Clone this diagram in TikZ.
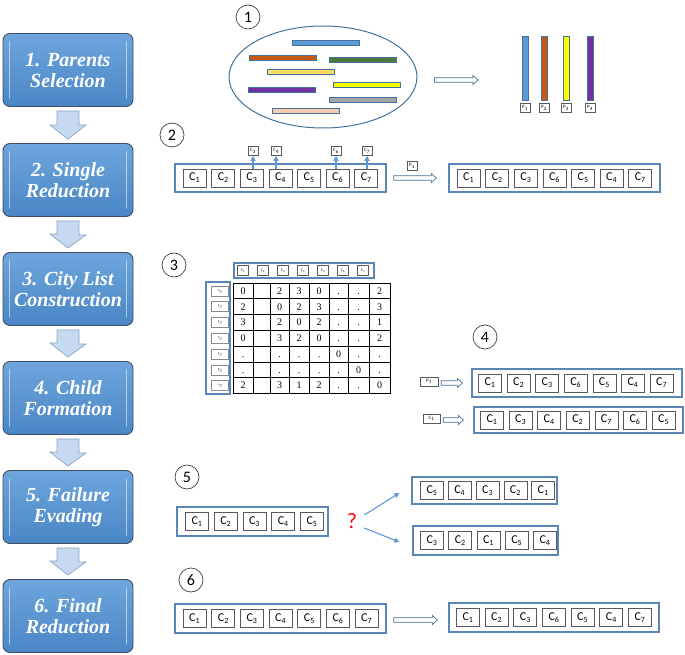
\documentclass[tikz,border=0pt]{standalone}
\usepackage{fontspec}
\setmainfont{Liberation Serif}
\newfontfamily\calfont{Carlito}
\usetikzlibrary{arrows.meta,shapes.geometric,calc}
\definecolor{stepTop}{HTML}{6EA6DC}
\definecolor{stepBot}{HTML}{4A86C6}
\definecolor{stepborder}{HTML}{3E4E60}
\definecolor{arrowfill}{HTML}{C6D9F0}
\definecolor{arrowline}{HTML}{8AA6C6}
\definecolor{boxblue}{HTML}{5A86B6}
\definecolor{cellgray}{HTML}{595959}
\definecolor{ellblue}{HTML}{41719C}
\definecolor{lineblue}{HTML}{5B9BD5}
\definecolor{barOrange}{HTML}{C55A11}
\definecolor{barGreen}{HTML}{4E7A3A}
\definecolor{barGold}{HTML}{FFD966}
\definecolor{barYellow}{HTML}{FFFF00}
\definecolor{barPurple}{HTML}{7030A0}
\definecolor{barGray}{HTML}{A5A5A5}
\definecolor{barPeach}{HTML}{F8CBAD}
\newcommand\cellrow[5]{\foreach \s [count=\i] in {#5}{\node[cellbox] (#1\i) at ({#2+(\i-1)*#4},#3) {C\textsubscript{\s}};}}
\newcommand\popbar[3]{\filldraw[fill=#1, draw=ellblue, line width=0.6pt] (#2,#3) rectangle ++(67,5);}
\newcommand\downblock[2]{\filldraw[blockarrow] ($(#1.south)+(-11,4)$) -- ++(22,0) -- ++(0,14) -- ++(7,0) -- ($(#2.north)+(0,-4)$) -- ++(-18,-14) -- ++(7,0) -- cycle;}
\newcommand\gloss[1]{\draw[white, opacity=0.55, line width=1.4pt, line cap=round] ($(#1.north west)+(7,9)$) -- ($(#1.south west)+(7,-9)$);
  \draw[white, opacity=0.55, line width=1.4pt, line cap=round] ($(#1.north east)+(-7,9)$) -- ($(#1.south east)+(-7,-9)$);}
\newcommand\hollowarrow[2]{\draw[hollowshape] let \p1=#1, \p2=#2 in (\x1,\y1+2.2pt) -- (\x2-5pt,\y1+2.2pt) -- (\x2-5pt,\y1+4.6pt) -- (\x2,\y1) -- (\x2-5pt,\y1-4.6pt) -- (\x2-5pt,\y1-2.2pt) -- (\x1,\y1-2.2pt) -- cycle;}
\begin{document}
\begin{tikzpicture}[x=1pt,y=-1pt,
  stepbox/.style={draw=stepborder, line width=0.9pt, rounded corners=7pt, top color=stepTop, bottom color=stepBot, minimum width=130pt, minimum height=73pt, align=center, text=white, font=\bfseries\itshape\fontsize{20}{21}\selectfont, inner sep=0pt},
  blockarrow/.style={fill=arrowfill, draw=arrowline, line width=0.7pt, line join=miter},
  cellbox/.style={draw=cellgray, fill=white, line width=0.8pt, minimum width=23pt, minimum height=18pt, inner sep=0pt, font=\calfont\fontsize{12}{12}\selectfont},
  outerbox/.style={draw=boxblue, line width=1.3pt, inner sep=0pt},
  tinybox/.style={draw=cellgray, fill=white, line width=0.6pt, minimum width=10pt, minimum height=9pt, inner sep=0.5pt, font=\calfont\fontsize{5}{5}\selectfont},
  numcirc/.style={circle, draw=black!75, line width=0.7pt, minimum size=24pt, inner sep=0pt, font=\calfont\fontsize{16}{16}\selectfont},
  hollowshape/.style={draw=ellblue, fill=white, line width=0.7pt, line join=miter},
  bluearrow/.style={draw=lineblue, line width=1.1pt, -{Triangle[length=5pt,width=5pt]}},
  grid/.style={draw=black, line width=0.6pt},
  mval/.style={inner sep=0pt, text height=6.8pt, text depth=0pt, font=\fontsize{10}{10}\selectfont}]
\useasboundingbox (0,0) rectangle (685,655);
% ---- left column
\node[stepbox] (b1) at (68,70) {1. Parents\\Selection};
\node[stepbox] (b2) at (68,180) {2. Single\\Reduction};
\node[stepbox] (b3) at (68,289) {3. City List\\Construction};
\node[stepbox] (b4) at (68,398) {4. Child\\Formation};
\node[stepbox] (b5) at (68,507) {5. Failure\\Evading};
\node[stepbox] (b6) at (68,616) {6. Final\\Reduction};
\foreach \b in {b1,b2,b3,b4,b5,b6}{\gloss{\b}}
\downblock{b1}{b2}
\downblock{b2}{b3}
\downblock{b3}{b4}
\downblock{b4}{b5}
\downblock{b5}{b6}
% ---- section 1
\node[numcirc] (n1) at (248,17) {1};
\node[ellipse, draw=ellblue, line width=1pt, minimum width=188pt, minimum height=102pt] (pop) at (323,77) {};
\popbar{lineblue}{292}{40}
\popbar{barOrange}{249}{55}
\popbar{barGreen}{329}{57}
\popbar{barGold}{267}{69}
\popbar{barYellow}{333}{82}
\popbar{barPurple}{248}{87}
\popbar{barGray}{329}{97}
\popbar{barPeach}{272}{108}
\filldraw[fill=lineblue, draw=ellblue, line width=0.6pt] (522,36) rectangle (528,100);
\filldraw[fill=barOrange, draw=ellblue, line width=0.6pt] (541,36) rectangle (547,100);
\filldraw[fill=barYellow, draw=ellblue, line width=0.6pt] (563,36) rectangle (569,100);
\filldraw[fill=barPurple, draw=ellblue, line width=0.6pt] (587,36) rectangle (593,100);
\node[tinybox] (p1) at (525,108) {P\textsubscript{1}};
\node[tinybox] (p2) at (544,108) {P\textsubscript{2}};
\node[tinybox] (p3) at (566,108) {P\textsubscript{3}};
\node[tinybox] (p4) at (590,108) {P\textsubscript{4}};
\coordinate (s1end) at (478,80);
\hollowarrow{($(pop.east)+(17,3)$)}{(s1end)}
% ---- section 2
\node[numcirc] (n2) at (172,135) {2};
\node[outerbox, minimum width=211pt, minimum height=28pt] (s2L) at (280.5,178) {};
\cellrow{s2a}{194.7}{178}{28.6}{1,2,3,4,5,6,7}
\node[outerbox, minimum width=211pt, minimum height=28pt] (s2R) at (554.5,178) {};
\cellrow{s2b}{468.7}{178}{28.6}{1,2,3,6,5,4,7}
\node[tinybox] (l3) at (253,151) {C\textsubscript{3}};
\node[tinybox] (l4) at (276,151) {C\textsubscript{4}};
\node[tinybox] (l6) at (336,151) {C\textsubscript{6}};
\node[tinybox] (l7) at (367,151) {C\textsubscript{7}};
\draw[bluearrow] (s2a3.north -| l3) -- (l3.south);
\draw[bluearrow] (s2a4.north -| l4) -- (l4.south);
\draw[bluearrow] (s2a6.north -| l6) -- (l6.south);
\draw[bluearrow] (s2a7.north -| l7) -- (l7.south);
\node[tinybox] (s2p) at (412,166) {P\textsubscript{1}};
\hollowarrow{($(s2L.east)+(7,0)$)}{($(s2R.west)+(-12,0)$)}
% ---- section 3
\node[numcirc] (n3) at (174,265) {3};
\node[outerbox, minimum width=140pt, minimum height=15pt] (hdr) at (304,270.5) {};
\foreach \i in {1,...,7}{\node[tinybox, minimum width=11pt, minimum height=10pt, font=\calfont\fontsize{4}{4}\selectfont] (h\i) at ({243+(\i-1)*20},270.5) {C\textsubscript{\i}};}
\node[outerbox, minimum width=24pt, minimum height=112pt] (rlab) at (218,338) {};
\foreach \i in {1,...,7}{\node[tinybox, minimum width=17pt, minimum height=10pt, font=\calfont\fontsize{4}{4}\selectfont, draw=black!45] (r\i) at (219.5,{283+7.9+(\i-1)*15.78}) {\rotatebox{180}{C\textsubscript{\i}}};}
\foreach \xx in {233,253,270,289,309,329,348,369,390}{\draw[grid] (\xx,283) -- (\xx,393.5);}
\foreach \k in {0,...,7}{\draw[grid] (233,{283+\k*15.78}) -- (390,{283+\k*15.78});}
\foreach \row [count=\r] in {{0,{},2,3,0,{.},{.},2},{2,{},0,2,3,{.},{.},3},{3,{},2,0,2,{.},{.},1},{0,{},3,2,0,{.},{.},2},{{.},{},{.},{.},{.},0,{.},{.}},{{.},{},{.},{.},{.},{.},0,{.}},{2,{},3,1,2,{.},{.},0}}{
  \foreach \v [count=\c] in \row {
    \pgfmathsetmacro\cx{{243,261.5,279.5,299,319,338.5,358.5,379.5}[\c-1]}
    \node[mval] (m\r-\c) at (\cx,{283+7.9+(\r-1)*15.78}) {\v};
  }
}
% ---- section 4
\node[numcirc] (n4) at (485,337) {4};
\node[outerbox, minimum width=210pt, minimum height=28pt] (s4a) at (577,383) {};
\cellrow{s4a}{490}{383}{28.6}{1,2,3,6,5,4,7}
\node[outerbox, minimum width=209pt, minimum height=26pt] (s4b) at (578.5,420) {};
\cellrow{s4b}{492}{420}{28.6}{1,3,4,2,7,6,5}
\node[tinybox, minimum width=18pt] (s4p) at (429,381.5) {P\textsubscript{1}};
\node[tinybox, minimum width=17pt] (s4c) at (431.5,418.5) {C\textsubscript{1}};
\hollowarrow{($(s4p.east)+(3,1.5)$)}{($(s4a.west)+(-9,0)$)}
\hollowarrow{($(s4c.east)+(3,1.5)$)}{($(s4b.west)+(-10,0)$)}
% ---- section 5
\node[numcirc] (n5) at (187,477) {5};
\node[outerbox, minimum width=151pt, minimum height=29pt] (s5L) at (252.5,521.5) {};
\cellrow{s5a}{197}{521.5}{28.75}{1,2,3,4,5}
\node[outerbox, minimum width=145pt, minimum height=27pt] (s5U) at (484.5,490.5) {};
\cellrow{s5b}{432}{490.5}{27.8}{5,4,3,2,1}
\node[outerbox, minimum width=145pt, minimum height=29pt] (s5D) at (485.5,540.5) {};
\cellrow{s5c}{432}{540.5}{28.25}{3,2,1,5,4}
\node[text=red, font=\calfont\fontsize{22}{22}\selectfont, inner sep=0pt] (q) at (352,521) {?};
\draw[bluearrow] ($(q.east)+(7,-6)$) -- ($(s5U.west)+(-12,2.5)$);
\draw[bluearrow] ($(q.east)+(7,7)$) -- ($(s5D.west)+(-13,1.5)$);
% ---- section 6
\node[numcirc] (n6) at (191,580) {6};
\node[outerbox, minimum width=211pt, minimum height=29pt] (s6L) at (280.5,618.5) {};
\cellrow{s6a}{194.7}{618.5}{28.67}{1,2,3,4,5,6,7}
\node[outerbox, minimum width=210pt, minimum height=29pt] (s6R) at (554,617.5) {};
\cellrow{s6b}{468}{617.5}{28.67}{1,2,3,6,5,4,7}
\hollowarrow{($(s6L.east)+(7,1.5)$)}{($(s6R.west)+(-11,0)$)}
\end{tikzpicture}
\end{document}
